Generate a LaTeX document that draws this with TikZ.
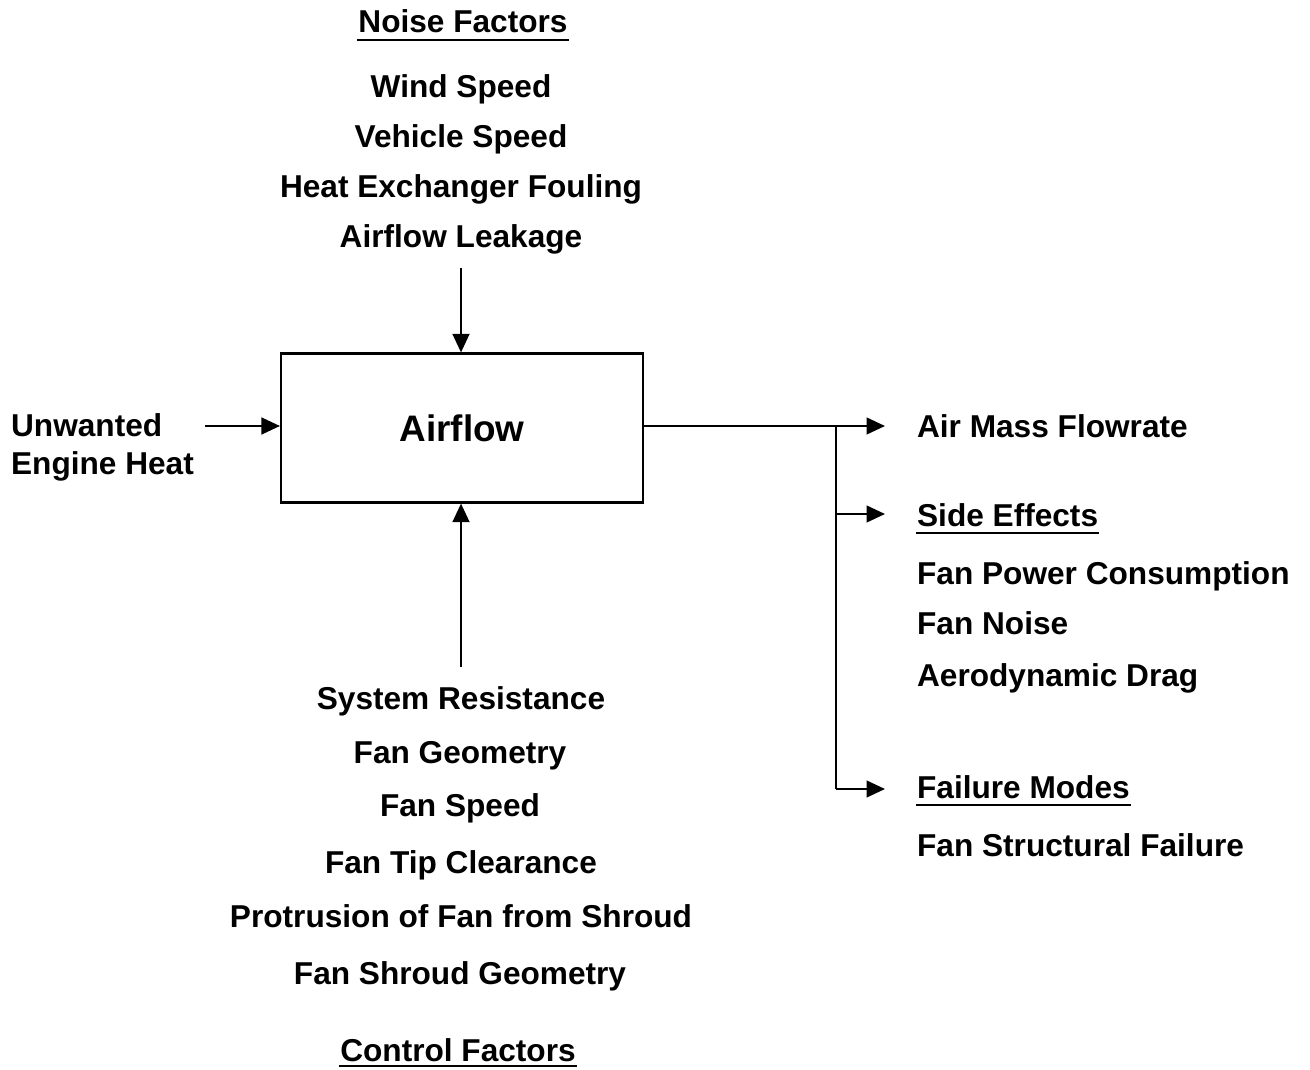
\documentclass[tikz,border=0pt]{standalone}
\usepackage{fontspec}
\setmainfont{Liberation Sans}
\usetikzlibrary{arrows.meta}

\tikzset{
  lbl/.style={font=\bfseries\fontsize{18}{22}\selectfont, inner sep=0pt, anchor=base},
  lblw/.style={lbl, anchor=base west},
  arr/.style={-{Triangle[length=10.5pt,width=9.5pt]}},
  uline/.style={line width=1.3pt}
}

\begin{document}
\begin{tikzpicture}[x=0.02cm, y=-0.02cm, line width=1.25pt]
  \useasboundingbox (0,0) rectangle (1310,1070);
  % central block
  \node[draw, minimum width=7.24cm, minimum height=2.98cm, inner sep=0pt,
    font=\bfseries\fontsize{21}{25}\selectfont] (box) at (462,428) {Airflow};
  % noise factors (top)
  \node[lbl] (nf) at (463,33) {Noise Factors};
  \draw[uline] ([yshift=-0.14cm]nf.base west) -- ([yshift=-0.14cm]nf.base east);
  \node[lbl] (ws) at (461,98) {Wind Speed};
  \node[lbl] (vs) at (461,148) {Vehicle Speed};
  \node[lbl] (hx) at (461,198) {Heat Exchanger Fouling};
  \node[lbl] (al) at (461,248) {Airflow Leakage};
  \coordinate (ntop) at (461,268);
  \draw[arr] (ntop) -- (ntop |- box.north);
  % input
  \node[lblw] (uw) at (10,437) {Unwanted};
  \node[lblw] (eh) at (10,475) {Engine Heat};
  \coordinate (lin) at (205,426);
  \draw[arr] (lin) -- (lin -| box.west);
  % control factors (bottom)
  \node[lbl] (sr) at (461,709) {System Resistance};
  \node[lbl] (fg) at (460,763) {Fan Geometry};
  \node[lbl] (fs) at (460,816) {Fan Speed};
  \node[lbl] (ftc) at (461,873) {Fan Tip Clearance};
  \node[lbl] (pfs) at (461,927) {Protrusion of Fan from Shroud};
  \node[lbl] (fsg) at (460,984) {Fan Shroud Geometry};
  \node[lbl] (cf) at (458,1061) {Control Factors};
  \draw[uline] ([yshift=-0.1cm]cf.base west) -- ([yshift=-0.1cm]cf.base east);
  \coordinate (cbot) at (461,667);
  \draw[arr] (cbot) -- (cbot |- box.south);
  % outputs
  \coordinate (split) at (836,426);
  \coordinate (amf) at (885,426);
  \coordinate (se) at (885,514);
  \coordinate (fm) at (885,789);
  \draw[arr] (box.east |- split) -- (amf);
  \draw (split) -- (split |- fm);
  \draw[arr] (split |- se) -- (se);
  \draw[arr] (split |- fm) -- (fm);
  \node[lblw] (amft) at (916,438) {Air Mass Flowrate};
  \node[lblw] (set) at (916,526) {Side Effects};
  \draw[uline] ([yshift=-0.14cm]set.base west) -- ([yshift=-0.14cm]set.base east);
  \node[lblw] (fpc) at (916,584) {Fan Power Consumption};
  \node[lblw] (fn) at (916,634) {Fan Noise};
  \node[lblw] (ad) at (916,686) {Aerodynamic Drag};
  \node[lblw] (fmt) at (916,798) {Failure Modes};
  \draw[uline] ([yshift=-0.14cm]fmt.base west) -- ([yshift=-0.14cm]fmt.base east);
  \node[lblw] (fsf) at (916,856) {Fan Structural Failure};
\end{tikzpicture}
\end{document}
